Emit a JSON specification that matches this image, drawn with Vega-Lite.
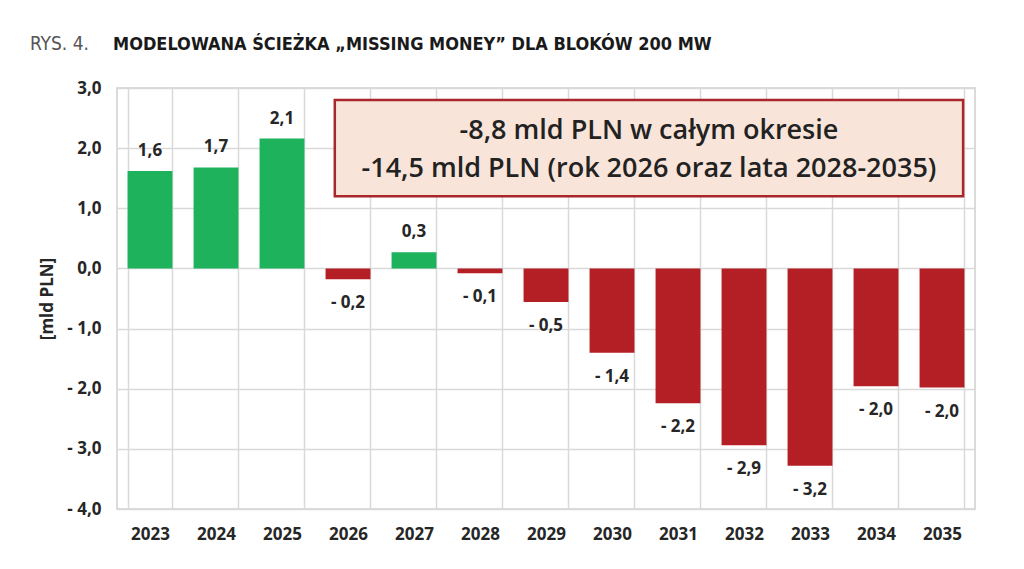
{
  "$schema": "https://vega.github.io/schema/vega-lite/v6.json",
  "width": 858,
  "height": 421,
  "autosize": {"type": "none"},
  "padding": {"left": 117, "top": 88, "right": 49, "bottom": 60},
  "background": "white",
  "config": {
    "view": {"stroke": "#cfcfcf", "strokeWidth": 1.5},
    "axis": {"labelFont": "Open Sans", "titleFont": "Open Sans"}
  },
  "layer": [
    {
      "data": {
        "values": [
          {"year": "2023", "value": 1.62, "label": "1,6"},
          {"year": "2024", "value": 1.68, "label": "1,7"},
          {"year": "2025", "value": 2.16, "label": "2,1"},
          {"year": "2026", "value": -0.18, "label": "- 0,2"},
          {"year": "2027", "value": 0.27, "label": "0,3"},
          {"year": "2028", "value": -0.08, "label": "- 0,1"},
          {"year": "2029", "value": -0.56, "label": "- 0,5"},
          {"year": "2030", "value": -1.4, "label": "- 1,4"},
          {"year": "2031", "value": -2.24, "label": "- 2,2"},
          {"year": "2032", "value": -2.94, "label": "- 2,9"},
          {"year": "2033", "value": -3.28, "label": "- 3,2"},
          {"year": "2034", "value": -1.96, "label": "- 2,0"},
          {"year": "2035", "value": -1.98, "label": "- 2,0"}
        ]
      },
      "encoding": {
        "x": {
          "field": "year",
          "type": "ordinal",
          "sort": null,
          "scale": {"paddingInner": 0.32, "paddingOuter": 0.16},
          "axis": {
            "title": null,
            "labelAngle": 0,
            "domain": false,
            "ticks": false,
            "grid": true,
            "tickBand": "extent",
            "gridColor": "#d9d9d9",
            "gridWidth": 1.5,
            "labelFontSize": 17,
            "labelFontWeight": "bold",
            "labelColor": "#262626",
            "labelPadding": 17
          }
        },
        "y": {
          "field": "value",
          "type": "quantitative",
          "scale": {"domain": [-4, 3], "nice": false, "zero": false},
          "axis": {
            "title": "[mld PLN]",
            "values": [-4, -3, -2, -1, 0, 1, 2, 3],
            "labelExpr": "datum.value < 0 ? '- ' + replace(format(-datum.value, '.1f'), '.', ',') : replace(format(datum.value, '.1f'), '.', ',')",
            "domain": false,
            "ticks": false,
            "grid": true,
            "gridColor": "#d9d9d9",
            "gridWidth": 1.5,
            "labelFontSize": 17,
            "labelFontWeight": "bold",
            "labelColor": "#262626",
            "labelPadding": 16,
            "titleFontSize": 17,
            "titleFontWeight": "bold",
            "titleColor": "#262626",
            "titlePadding": 10
          }
        }
      },
      "layer": [
        {
          "mark": {"type": "bar"},
          "encoding": {
            "color": {
              "condition": {"test": "datum.value >= 0", "value": "#1fb25c"},
              "value": "#b41f25"
            }
          }
        },
        {
          "transform": [{"filter": "datum.value >= 0"}],
          "mark": {"type": "text", "baseline": "middle", "dy": -20, "font": "Open Sans", "fontWeight": "bold", "fontSize": 17, "color": "#262626"},
          "encoding": {"text": {"field": "label"}}
        },
        {
          "transform": [{"filter": "datum.value < 0"}],
          "mark": {"type": "text", "baseline": "middle", "dy": 24, "font": "Open Sans", "fontWeight": "bold", "fontSize": 17, "color": "#262626"},
          "encoding": {"text": {"field": "label"}}
        }
      ]
    },
    {
      "data": {
        "values": [
          {"x0": 3.3, "x1": 12.82, "y0": 1.2, "y1": 2.8}
        ]
      },
      "mark": {"type": "rect", "fill": "#f8e4d8", "stroke": "#a8262c", "strokeWidth": 2.5},
      "encoding": {
        "x": {"field": "x0", "type": "quantitative", "scale": {"domain": [0, 13], "nice": false, "zero": false}, "axis": null},
        "x2": {"field": "x1"},
        "y": {"field": "y0", "type": "quantitative"},
        "y2": {"field": "y1"}
      }
    },
    {
      "data": {
        "values": [
          {"x": 8.06, "y": 2.28, "t": "-8,8 mld PLN w całym okresie"},
          {"x": 8.06, "y": 1.66, "t": "-14,5 mld PLN (rok 2026 oraz lata 2028-2035)"}
        ]
      },
      "mark": {"type": "text", "align": "center", "baseline": "middle", "font": "Open Sans", "fontWeight": 600, "fontSize": 27, "color": "#222222"},
      "encoding": {
        "x": {"field": "x", "type": "quantitative", "scale": {"domain": [0, 13], "nice": false, "zero": false}, "axis": null},
        "y": {"field": "y", "type": "quantitative"},
        "text": {"field": "t"}
      }
    },
    {
      "data": {
        "values": [
          {"x": -1.32, "y": 3.625, "t": "RYS. 4."}
        ]
      },
      "mark": {"type": "text", "align": "left", "baseline": "alphabetic", "font": "DejaVu Sans Condensed", "fontSize": 19, "color": "#555555"},
      "encoding": {
        "x": {"field": "x", "type": "quantitative", "scale": {"domain": [0, 13], "nice": false, "zero": false}, "axis": null},
        "y": {"field": "y", "type": "quantitative"},
        "text": {"field": "t"}
      }
    },
    {
      "data": {
        "values": [
          {"x": -0.06, "y": 3.625, "t": "MODELOWANA ŚCIEŻKA „MISSING MONEY” DLA BLOKÓW 200 MW"}
        ]
      },
      "mark": {"type": "text", "align": "left", "baseline": "alphabetic", "font": "DejaVu Sans Condensed", "fontWeight": "bold", "fontSize": 18, "color": "#1a1a1a"},
      "encoding": {
        "x": {"field": "x", "type": "quantitative", "scale": {"domain": [0, 13], "nice": false, "zero": false}, "axis": null},
        "y": {"field": "y", "type": "quantitative"},
        "text": {"field": "t"}
      }
    }
  ],
  "resolve": {"scale": {"x": "independent"}}
}
